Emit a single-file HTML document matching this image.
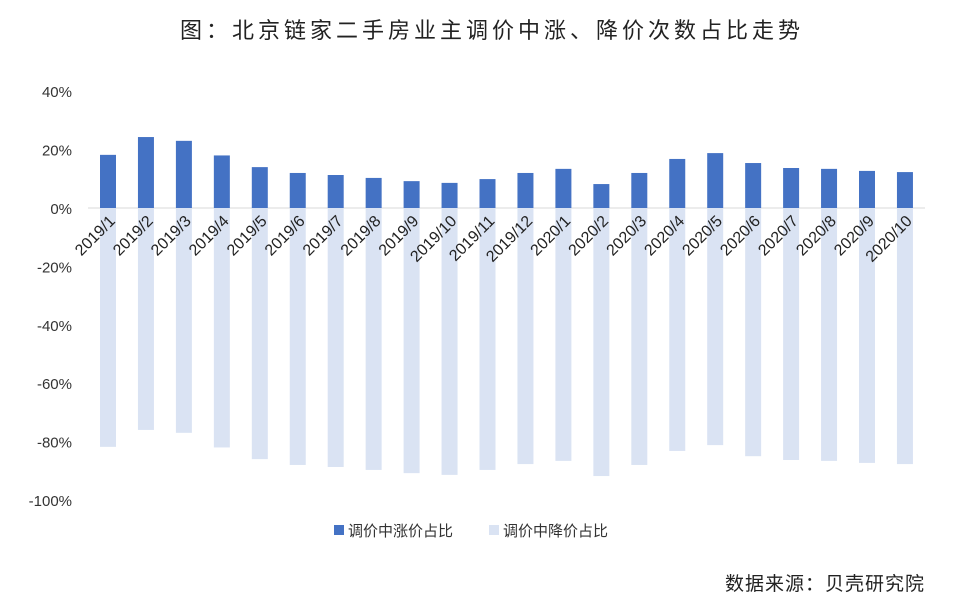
<!DOCTYPE html>
<html><head><meta charset="utf-8"><style>
body{margin:0;background:#fff;font-family:"Liberation Sans","Noto Sans CJK SC",sans-serif;}
</style></head><body>
<svg id="c" width="959" height="608" xmlns="http://www.w3.org/2000/svg" font-family="Liberation Sans, Noto Sans CJK SC, sans-serif">
<text x="492" y="38" text-anchor="middle" font-size="22" fill="#222" letter-spacing="4">图：北京链家二手房业主调价中涨、降价次数占比走势</text>
<g id="axis"></g><g id="bars"></g>
<g>
<rect x="334" y="525" width="10" height="10" fill="#4472c4"/>
<text x="348" y="536" font-size="15" fill="#333">调价中涨价占比</text>
<rect x="489" y="525" width="10" height="10" fill="#dae3f3"/>
<text x="503" y="536" font-size="15" fill="#333">调价中降价占比</text>
</g>
<text x="925" y="590" text-anchor="end" font-size="19" fill="#222" letter-spacing="1">数据来源：贝壳研究院</text>
</svg>
<script>
const categories=["2019/1","2019/2","2019/3","2019/4","2019/5","2019/6","2019/7","2019/8","2019/9","2019/10","2019/11","2019/12","2020/1","2020/2","2020/3","2020/4","2020/5","2020/6","2020/7","2020/8","2020/9","2020/10"];
const upValues=[18.2,24.3,23,18,14,12,11.3,10.3,9.2,8.6,9.9,12,13.4,8.2,12,16.8,18.8,15.4,13.7,13.4,12.7,12.3];
const downValues=[-81.8,-76,-77,-82,-86,-88,-88.7,-89.7,-90.8,-91.4,-89.7,-87.7,-86.6,-91.8,-88,-83.2,-81.2,-85,-86.3,-86.6,-87.3,-87.7];
const tickValues=[40,20,0,-20,-40,-60,-80,-100];
const ns="http://www.w3.org/2000/svg";
function y(v){return 208-v*2.92;}
function x(i){return 108+i*37.95;}
function mk(t,a,p){const e=document.createElementNS(ns,t);for(const k in a)e.setAttribute(k,a[k]);p.appendChild(e);return e;}
const ax=document.getElementById('axis'),bg=document.getElementById('bars');
tickValues.forEach(v=>{const t=mk('text',{x:72,y:y(v)+6,'text-anchor':'end','font-size':15,fill:'#333'},ax);t.textContent=v+'%';

});
const zl=mk('line',{x1:88,x2:925,y1:y(0),y2:y(0),stroke:'#d9d9d9'},ax);


categories.forEach((c,i)=>{
 const cx=x(i),w=16;
 const d=mk('rect',{x:cx-w/2,y:y(0),width:w,height:y(downValues[i])-y(0),fill:'#dae3f3'},bg);
 
 
 const u=mk('rect',{x:cx-w/2,y:y(upValues[i]),width:w,height:y(0)-y(upValues[i]),fill:'#4472c4'},bg);
 
 
 const lx=cx+8,ly=222;
 const t=mk('text',{x:lx,y:ly,'text-anchor':'end','font-size':16,fill:'#222',transform:`rotate(-45 ${lx} ${ly})`},bg);
 t.textContent=c;
 
 
});
</script>
</body></html>
